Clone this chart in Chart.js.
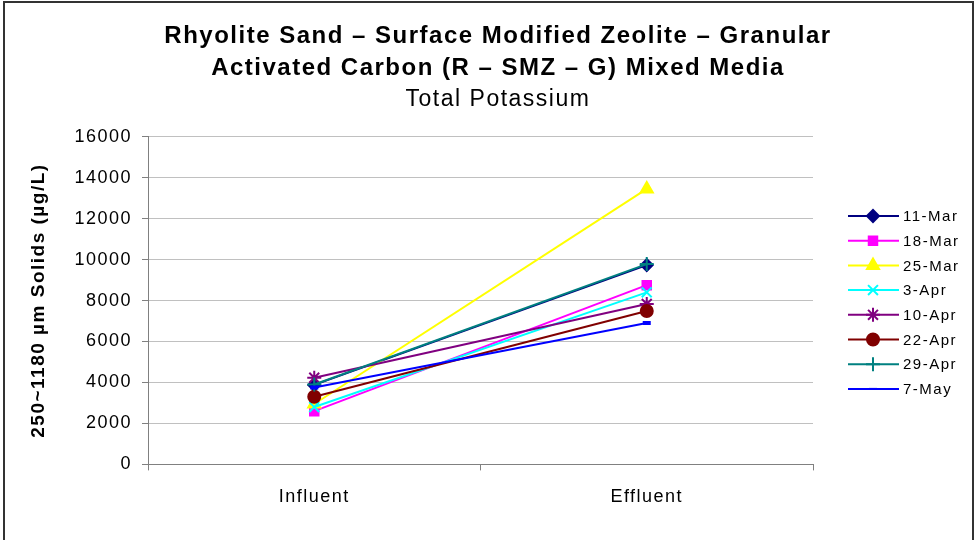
<!DOCTYPE html>
<html>
<head>
<meta charset="utf-8">
<script src="https://cdn.jsdelivr.net/npm/chart.js@4/dist/chart.umd.min.js"></script>
<style>
  body { margin: 0; background: #fff; }
  #wrap { width: 974px; height: 540px; }
</style>
</head>
<body>
<div id="wrap"><canvas id="kChart" width="974" height="540"></canvas></div>
<script>
// data
const categories = ["Influent", "Effluent"];
const seriesNames = ["11-Mar", "18-Mar", "25-Mar", "3-Apr", "10-Apr", "22-Apr", "29-Apr", "7-May"];
const mar11 = [3880, 9730];
const mar18 = [2600, 8750];
const mar25 = [2950, 13450];
const apr3 = [2800, 8400];
const apr10 = [4230, 7830];
const apr22 = [3300, 7490];
const apr29 = [3900, 9780];
const may7 = [3750, 6900];
const yTicks = [0, 2000, 4000, 6000, 8000, 10000, 12000, 14000, 16000];

const seriesValues = [mar11, mar18, mar25, apr3, apr10, apr22, apr29, may7];
const colors = ["#000080", "#FF00FF", "#FFFF00", "#00FFFF", "#800080", "#800000", "#008080", "#0000FF"];
const markers = ["rectRot", "rect", "triangle", "crossRot", "star", "circle", "cross", "line"];
const radii = [6, 6, 7, 7, 7, 6, 7, 4];
const FONT = "'Liberation Sans', Arial, sans-serif";

const datasets = seriesNames.map((name, i) => ({
  label: name,
  data: seriesValues[i],
  order: seriesNames.length - i, // later series on top, like excel
  borderColor: colors[i],
  backgroundColor: colors[i],
  borderWidth: 2,
  pointStyle: markers[i],
  pointRadius: radii[i],
  pointBorderWidth: markers[i] === "line" ? 4 : 2,
  pointBorderColor: colors[i],
  pointBackgroundColor: colors[i]
}));

// the excel text is drawn a bit wide, fake it with letter spacing
const spacing = {
  id: "spacing",
  beforeUpdate(chart) { chart.ctx.letterSpacing = "1.5px"; },
  beforeDraw(chart) { chart.ctx.letterSpacing = "1.5px"; }
};

// legend on the right: line + marker, drawn from dataset styles
const sideLegend = {
  id: "sideLegend",
  afterDraw(chart) {
    const ctx = chart.ctx;
    ctx.save();
    // outer frame
    ctx.strokeStyle = "#333";
    ctx.lineWidth = 2;
    ctx.strokeRect(4, 2, 969, 560);
    chart.data.datasets.forEach((ds, i) => {
      const y = 216 + i * 24.7;
      ctx.strokeStyle = ds.borderColor;
      ctx.lineWidth = 2;
      ctx.beginPath();
      ctx.moveTo(848, y);
      ctx.lineTo(899, y);
      ctx.stroke();
      ctx.fillStyle = ds.backgroundColor;
      Chart.helpers.drawPoint(ctx, { pointStyle: ds.pointStyle, radius: ds.pointRadius, borderWidth: ds.pointBorderWidth }, 873, y);
      ctx.fillStyle = "#000";
      ctx.font = "15px " + FONT;
      ctx.textBaseline = "middle";
      ctx.textAlign = "left";
      ctx.fillText(ds.label, 903, y + 1);
    });
    ctx.restore();
  }
};

new Chart(document.getElementById("kChart").getContext("2d"), {
  type: "line",
  data: { labels: categories, datasets: datasets },
  options: {
    responsive: false,
    animation: false,
    layout: { padding: { left: 22, right: 0, top: 0, bottom: 16 } },
    plugins: {
      legend: { display: false },
      tooltip: { enabled: false },
      title: {
        display: true,
        text: ["Rhyolite Sand \u2013 Surface Modified Zeolite \u2013 Granular", "Activated Carbon (R \u2013 SMZ \u2013 G) Mixed Media"],
        color: "#000",
        font: { family: FONT, size: 24, weight: "bold", lineHeight: 1.35 },
        padding: { top: 20, bottom: 0 }
      },
      subtitle: {
        display: true,
        text: "Total Potassium",
        color: "#000",
        font: { family: FONT, size: 23, weight: "normal", lineHeight: 1.3 },
        padding: { top: 0, bottom: 22 }
      }
    },
    scales: {
      x: {
        offset: true,
        grid: { display: true, drawOnChartArea: false, offset: true, tickLength: 6, color: "#808080" },
        border: { color: "#808080" },
        ticks: { color: "#000", padding: 16, font: { family: FONT, size: 18 } }
      },
      y: {
        min: 0,
        max: 16000,
        afterBuildTicks: (s) => { s.ticks = yTicks.map(v => ({ value: v })); },
        afterFit: (s) => { s.width = 126; },
        grid: { color: "#c0c0c0", tickLength: 6, tickColor: "#808080" },
        border: { color: "#808080" },
        ticks: { color: "#000", padding: 10, font: { family: FONT, size: 18 }, callback: (v) => String(v) },
        title: {
          display: true,
          text: "250~1180 \u00b5m Solids (\u00b5g/L)",
          color: "#000",
          padding: { top: 5 },
          font: { family: FONT, size: 19, weight: "bold" }
        }
      },
      // empty box on the right to keep room for the legend
      side: {
        type: "linear",
        position: "right",
        display: true,
        afterFit: (s) => { s.width = 161; },
        grid: { display: false },
        border: { display: false },
        ticks: { display: false }
      }
    }
  },
  plugins: [spacing, sideLegend]
});
</script>
</body>
</html>
